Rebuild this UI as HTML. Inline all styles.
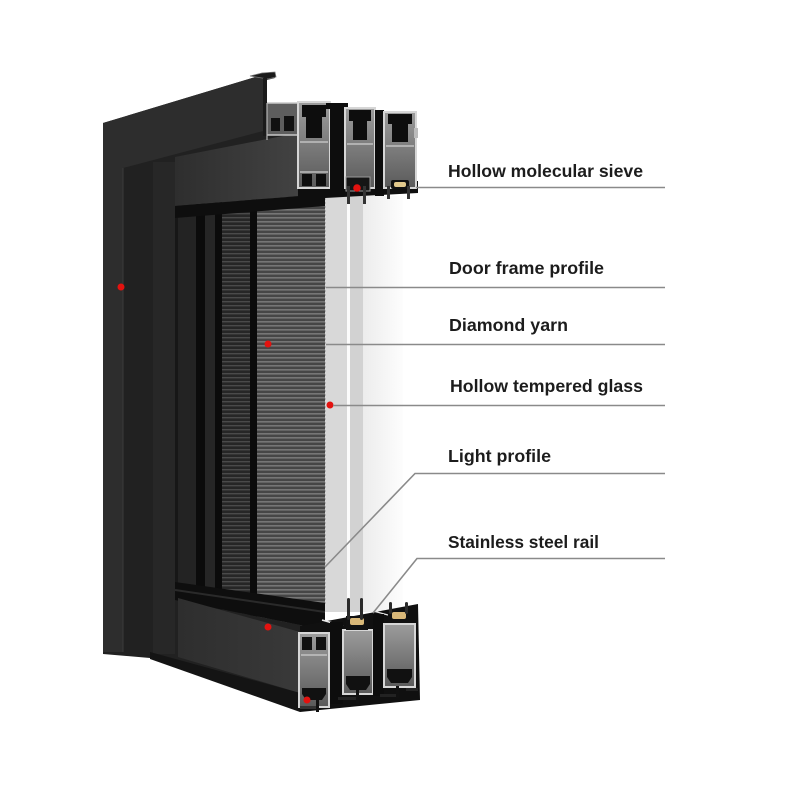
<!DOCTYPE html>
<html><head><meta charset="utf-8"><style>
html,body{margin:0;padding:0;background:#fff;}
svg{display:block;}
text{font-family:"Liberation Sans",Arial,sans-serif;font-weight:bold;font-size:17.5px;fill:#1c1c1c;}
</style></head><body>
<svg width="800" height="800" viewBox="0 0 800 800" xmlns="http://www.w3.org/2000/svg">
<defs>
 <pattern id="mesh" width="6" height="4" patternUnits="userSpaceOnUse">
  <rect width="6" height="4" fill="#464646"/>
  <rect y="1" width="6" height="1.6" fill="#767676"/>
 </pattern>
 <pattern id="mesh2" width="6" height="4" patternUnits="userSpaceOnUse">
  <rect width="6" height="4" fill="#262626"/>
  <rect y="1" width="6" height="1.4" fill="#4a4a4a"/>
 </pattern>
 <linearGradient id="metal" x1="0" y1="0" x2="0" y2="1">
  <stop offset="0" stop-color="#9c9c9c"/><stop offset="1" stop-color="#5a5a5a"/>
 </linearGradient>
 <linearGradient id="soffit" x1="0" y1="0" x2="1" y2="0">
  <stop offset="0" stop-color="#2e2e2e"/><stop offset="1" stop-color="#424242"/>
 </linearGradient>
 <linearGradient id="sill" x1="0" y1="0" x2="1" y2="0">
  <stop offset="0" stop-color="#2e2e2e"/><stop offset="1" stop-color="#393939"/>
 </linearGradient>
 <linearGradient id="faint" x1="0" y1="0" x2="1" y2="0">
  <stop offset="0" stop-color="#ececec"/><stop offset="1" stop-color="#fdfdfd"/>
 </linearGradient>
 <clipPath id="sash"><polygon points="175,206 325,194 325,630 175,600"/></clipPath>
</defs>

<!-- base frame silhouette -->
<polygon points="103,123 262,75 274,73 275,78 267,80 267,103 300,103 300,200 325,198 325,628 300,632 300,710 150,658 103,654" fill="#212121"/>
<!-- outer face -->
<polygon points="103,123 262,75 267,78 267,130 123,168 123,652 103,652" fill="#2d2d2d"/>
<line x1="123" y1="168" x2="123" y2="652" stroke="#3a3a3a" stroke-width="1"/>
<rect x="153" y="162" width="22" height="492" fill="#272727"/>
<!-- top lip -->
<polygon points="250,76 262,73 275,72 276,77 268,79 262,78" fill="#1a1a1a" stroke="#777" stroke-width="0.8"/>
<!-- soffit -->
<polygon points="175,157 298,133 298,197 175,208" fill="url(#soffit)"/>

<!-- sash -->
<g clip-path="url(#sash)">
 <rect x="175" y="190" width="150" height="440" fill="#171717"/>
 <rect x="178" y="190" width="18" height="440" fill="#232323"/>
 <rect x="196" y="190" width="9" height="440" fill="#0b0b0b"/>
 <rect x="205" y="190" width="10" height="440" fill="#262626"/>
 <rect x="215" y="190" width="7" height="440" fill="#0b0b0b"/>
 <rect x="222" y="190" width="28" height="440" fill="url(#mesh2)"/>
 <rect x="250" y="190" width="7" height="440" fill="#0b0b0b"/>
 <rect x="257" y="190" width="68" height="440" fill="url(#mesh)"/>
 <polygon points="175,204 325,192 325,206 175,218" fill="#0e0e0e"/>
 <polygon points="175,582 325,603 325,640 175,610" fill="#0e0e0e"/>
 <line x1="175" y1="590" x2="325" y2="612" stroke="#2a2a2a" stroke-width="2"/>
</g>
<!-- sill face -->
<polygon points="178,598 300,632 300,693 178,657" fill="url(#sill)"/>
<polygon points="150,652 300,693 300,712 150,659" fill="#141414"/>

<!-- glass -->
<rect x="325" y="196" width="22" height="416" fill="#d8d8d8"/>
<rect x="347" y="196" width="3" height="416" fill="#fbfbfb"/>
<rect x="350" y="196" width="13" height="416" fill="#d2d2d2"/>
<rect x="363" y="196" width="40" height="416" fill="url(#faint)"/>
<line x1="325.5" y1="198" x2="325.5" y2="605" stroke="#b8b8b8" stroke-width="1" stroke-dasharray="2,2"/>

<!-- top profile -->
<g>
 <polygon points="298,186 418,181 418,193 325,198 298,200" fill="#0e0e0e"/>
 <rect x="266" y="103" width="32" height="32" fill="#5e5e5e" stroke="#c8c8c8" stroke-width="1.5"/>
 <rect x="271" y="118" width="9" height="13" fill="#111"/>
 <rect x="284" y="116" width="10" height="15" fill="#111"/>
 <rect x="263" y="78" width="4" height="58" fill="#1a1a1a"/>
 <line x1="267" y1="103" x2="267" y2="140" stroke="#b5b5b5" stroke-width="1.2"/>

 <rect x="298" y="102" width="32" height="86" fill="url(#metal)" stroke="#d6d6d6" stroke-width="2"/>
 <polygon points="302,105 326,105 326,117 322,117 322,138 306,138 306,117 302,117" fill="#0d0d0d"/>
 <line x1="300" y1="142" x2="328" y2="142" stroke="#cfcfcf" stroke-width="1.2"/>
 <line x1="300" y1="172" x2="328" y2="172" stroke="#cfcfcf" stroke-width="1.2"/>
 <rect x="302" y="174" width="10" height="12" fill="#0d0d0d"/>
 <rect x="316" y="174" width="10" height="12" fill="#0d0d0d"/>

 <rect x="330" y="104" width="15" height="92" fill="#0d0d0d"/>
 <rect x="326" y="103" width="22" height="6" fill="#0d0d0d"/>

 <rect x="345" y="108" width="30" height="80" fill="url(#metal)" stroke="#d6d6d6" stroke-width="2"/>
 <polygon points="349,110 371,110 371,121 367,121 367,140 353,140 353,121 349,121" fill="#0d0d0d"/>
 <line x1="347" y1="144" x2="373" y2="144" stroke="#cfcfcf" stroke-width="1.2"/>
 <rect x="346" y="177" width="24" height="14" fill="#151515" stroke="#999" stroke-width="1"/>

 <rect x="375" y="110" width="9" height="86" fill="#0d0d0d"/>

 <rect x="384" y="112" width="32" height="76" fill="url(#metal)" stroke="#d6d6d6" stroke-width="2"/>
 <polygon points="388,114 412,114 412,124 408,124 408,142 392,142 392,124 388,124" fill="#0d0d0d"/>
 <line x1="386" y1="146" x2="414" y2="146" stroke="#cfcfcf" stroke-width="1.2"/>
 <rect x="414" y="128" width="4" height="10" fill="#bbb"/>
 <rect x="391" y="180" width="18" height="9" rx="2" fill="#111"/>
 <rect x="394" y="182" width="12" height="5" rx="2" fill="#e2c98c"/>

 <rect x="347" y="186" width="3" height="18" fill="#333"/>
 <rect x="363" y="186" width="3" height="18" fill="#333"/>
 <rect x="387" y="186" width="3" height="13" fill="#333"/>
 <rect x="407" y="186" width="3" height="13" fill="#333"/>
</g>

<!-- bottom profile -->
<g>
 <polygon points="300,626 418,604 420,700 300,712" fill="#101010"/>
 <line x1="322" y1="620" x2="343" y2="626" stroke="#e8e8e8" stroke-width="1.5"/>
 <line x1="373" y1="611" x2="388" y2="615" stroke="#e8e8e8" stroke-width="1.2"/>
 <rect x="299" y="633" width="30" height="74" fill="url(#metal)" stroke="#d6d6d6" stroke-width="2"/>
 <rect x="302" y="637" width="10" height="13" fill="#111"/>
 <rect x="316" y="637" width="10" height="13" fill="#111"/>
 <line x1="301" y1="655" x2="327" y2="655" stroke="#cfcfcf" stroke-width="1.2"/>
 <polygon points="302,688 326,688 326,694 322,700 306,700 302,694" fill="#111"/>
 <rect x="330" y="622" width="13" height="82" fill="#0d0d0d"/>

 <rect x="343" y="630" width="30" height="64" fill="url(#metal)" stroke="#d6d6d6" stroke-width="2"/>
 <rect x="346" y="616" width="22" height="14" fill="#111"/>
 <rect x="350" y="618" width="14" height="7" rx="2" fill="#d9b878"/>
 <polygon points="346,676 370,676 370,684 366,690 350,690 346,684" fill="#111"/>

 <rect x="373" y="614" width="11" height="82" fill="#0d0d0d"/>

 <rect x="384" y="624" width="31" height="63" fill="url(#metal)" stroke="#d6d6d6" stroke-width="2"/>
 <rect x="388" y="610" width="22" height="13" fill="#111"/>
 <rect x="392" y="612" width="14" height="7" rx="2" fill="#d9b878"/>
 <polygon points="387,669 412,669 412,677 408,683 391,683 387,677" fill="#111"/>

 <rect x="347" y="598" width="3" height="22" rx="1.5" fill="#2a2a2a"/>
 <rect x="360" y="598" width="3" height="22" rx="1.5" fill="#2a2a2a"/>
 <rect x="389" y="602" width="3" height="12" rx="1.5" fill="#2a2a2a"/>
 <rect x="405" y="602" width="3" height="12" rx="1.5" fill="#2a2a2a"/>

 <rect x="316" y="692" width="3" height="20" fill="#111"/>
 <rect x="300" y="706" width="16" height="3" fill="#333"/>
 <rect x="338" y="697" width="20" height="3" fill="#222"/>
 <rect x="356" y="690" width="3" height="14" fill="#111"/>
 <rect x="380" y="694" width="18" height="3" fill="#222"/>
 <rect x="396" y="686" width="3" height="12" fill="#111"/>
 <rect x="406" y="688" width="12" height="3" fill="#222"/>
</g>

<!-- red dots -->
<g fill="#e3120f">
 <circle cx="121" cy="287" r="3.5"/>
 <circle cx="268" cy="344" r="3.5"/>
 <circle cx="330" cy="405" r="3.5"/>
 <circle cx="357" cy="188" r="3.8"/>
 <circle cx="268" cy="627" r="3.5"/>
 <circle cx="307" cy="700" r="3.5"/>
</g>

<!-- connector lines -->
<g stroke="#8a8a8a" stroke-width="1.6" fill="none">
 <line x1="416" y1="187.5" x2="665" y2="187.5"/>
 <line x1="326" y1="287.5" x2="665" y2="287.5"/>
 <line x1="326" y1="344.5" x2="665" y2="344.5"/>
 <line x1="333" y1="405.5" x2="665" y2="405.5"/>
 <polyline points="325,567 415,473.5 665,473.5"/>
 <polyline points="373,613 417,558.5 665,558.5"/>
</g>

<!-- labels -->
<text x="448" y="177" textLength="195" lengthAdjust="spacingAndGlyphs">Hollow molecular sieve</text>
<text x="449" y="274" textLength="155" lengthAdjust="spacingAndGlyphs">Door frame profile</text>
<text x="449" y="331" textLength="119" lengthAdjust="spacingAndGlyphs">Diamond yarn</text>
<text x="450" y="392" textLength="193" lengthAdjust="spacingAndGlyphs">Hollow tempered glass</text>
<text x="448" y="462" textLength="103" lengthAdjust="spacingAndGlyphs">Light profile</text>
<text x="448" y="548" textLength="151" lengthAdjust="spacingAndGlyphs">Stainless steel rail</text>
</svg>
</body></html>
